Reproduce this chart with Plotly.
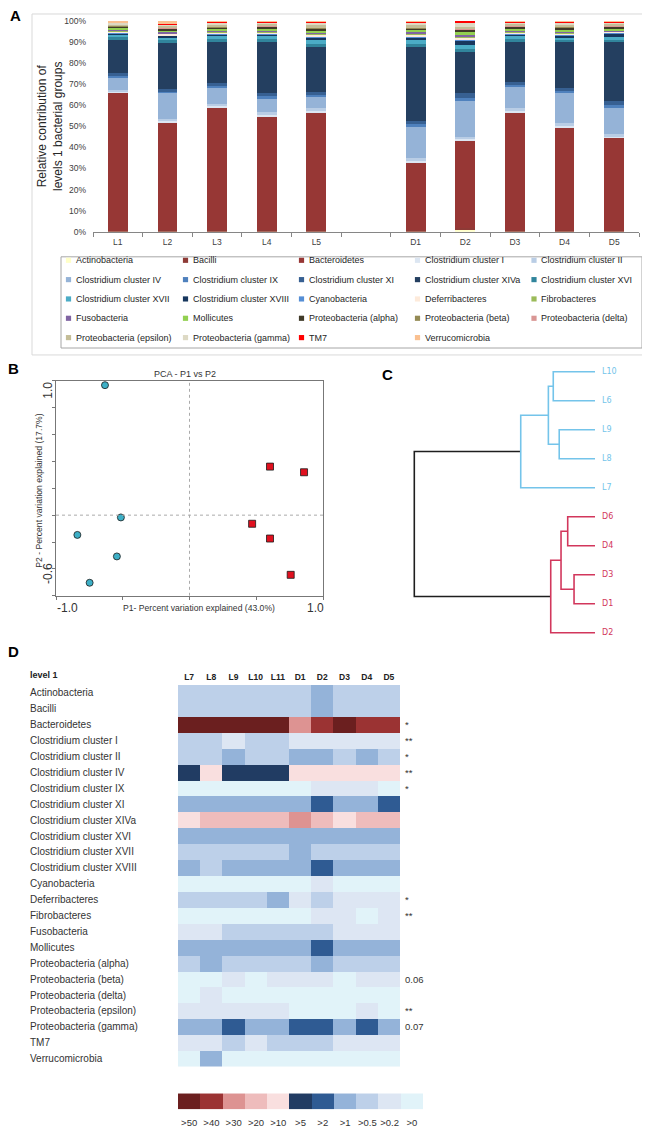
import plotly.graph_objects as go

# The page body keeps the browser's default 8 px margin, so the figure is drawn
# 8 px in from the window's top-left corner; positions below are window pixels.
PAGE_MARGIN = 8
WIN_W, WIN_H = 650, 1140
W, H = WIN_W - PAGE_MARGIN, WIN_H - PAGE_MARGIN


def px_x(p):
    return (p - PAGE_MARGIN) / W


def px_y(p):
    return 1 - (p - PAGE_MARGIN) / H


FONT = "Liberation Sans, Arial, sans-serif"

# ---------------- Panel A data ----------------
samples = ["L1", "L2", "L3", "L4", "L5", "D1", "D2", "D3", "D4", "D5"]
blank_slot = " "
x_order = samples[:5] + [blank_slot] + samples[5:]

group_names = [
    "Actinobacteria", "Bacilli", "Bacteroidetes", "Clostridium cluster I",
    "Clostridium cluster II", "Clostridium cluster IV", "Clostridium cluster IX",
    "Clostridium cluster XI", "Clostridium cluster XIVa", "Clostridium cluster XVI",
    "Clostridium cluster XVII", "Clostridium cluster XVIII", "Cyanobacteria",
    "Deferribacteres", "Fibrobacteres", "Fusobacteria", "Mollicutes",
    "Proteobacteria (alpha)", "Proteobacteria (beta)", "Proteobacteria (delta)",
    "Proteobacteria (epsilon)", "Proteobacteria (gamma)", "TM7", "Verrucomicrobia",
]
group_colors = [
    "#FFFFC8", "#8E3A36", "#973735", "#DCE6F2", "#B9CDE5", "#95B3D7", "#4F81BD",
    "#376092", "#243F60", "#31859C", "#4BACC6", "#17375E", "#558ED5", "#FDEADA",
    "#9BBB59", "#8064A2", "#92D050", "#403A28", "#948A54", "#D99694", "#C4BD97",
    "#DDD9C4", "#FF0000", "#FAC090",
]

actinobacteria = [0.1, 0.2, 0.2, 0.2, 0.2, 0.2, 0.6, 0.2, 0.2, 0.2]
bacilli = [0.4, 0.5, 0.5, 0.5, 0.5, 0.5, 1.0, 0.5, 0.5, 0.5]
bacteroidetes = [65.4, 51.1, 58.1, 54.2, 56.1, 31.9, 41.6, 56.1, 48.8, 44.1]
clostridium_I = [0.5, 0.6, 0.6, 0.6, 0.6, 1.0, 0.8, 0.6, 0.7, 0.6]
clostridium_II = [0.6, 1.0, 1.0, 1.0, 1.0, 1.5, 1.1, 1.0, 1.1, 0.9]
clostridium_IV = [6.2, 12.5, 8.1, 7.0, 5.6, 15.1, 16.9, 10.6, 14.9, 12.9]
clostridium_IX = [0.6, 0.5, 0.6, 0.8, 0.8, 0.8, 1.2, 0.6, 0.6, 0.9]
clostridium_XI = [1.3, 1.0, 1.2, 1.4, 1.4, 1.6, 2.4, 1.3, 1.1, 1.9]
clostridium_XIVa = [15.8, 22.0, 19.5, 24.4, 21.1, 34.7, 19.4, 19.2, 21.9, 27.8]
clostridium_XVI = [1.2, 1.3, 1.3, 1.2, 1.6, 1.6, 1.5, 1.2, 1.1, 1.2]
clostridium_XVII = [1.3, 1.3, 1.4, 1.2, 1.7, 1.7, 1.8, 1.2, 1.1, 1.2]
clostridium_XVIII = [0.8, 1.0, 1.1, 1.2, 1.7, 1.7, 2.3, 1.2, 1.3, 1.9]
cyanobacteria = [0.2, 0.3, 0.3, 0.3, 0.4, 0.4, 0.6, 0.3, 0.3, 0.3]
deferribacteres = [0.6, 0.6, 0.7, 0.7, 0.8, 0.8, 0.8, 0.7, 0.7, 0.5]
fibrobacteres = [0.3, 0.4, 0.4, 0.4, 0.5, 0.4, 0.6, 0.4, 0.4, 0.3]
fusobacteria = [0.1, 0.1, 0.1, 0.1, 0.2, 0.5, 0.6, 0.1, 0.1, 0.1]
mollicutes = [1.3, 1.3, 1.3, 1.3, 1.5, 1.4, 1.8, 1.3, 1.4, 1.2]
proteo_alpha = [0.7, 0.6, 0.6, 0.7, 0.8, 0.7, 0.8, 0.7, 0.7, 0.7]
proteo_beta = [0.3, 0.3, 0.3, 0.3, 0.3, 0.3, 0.3, 0.3, 0.3, 0.3]
proteo_delta = [0.2, 0.2, 0.2, 0.2, 0.3, 0.3, 0.3, 0.2, 0.2, 0.2]
proteo_epsilon = [0.4, 0.5, 0.5, 0.5, 0.6, 0.6, 0.7, 0.5, 0.5, 0.5]
proteo_gamma = [0.9, 1.2, 1.4, 1.2, 1.6, 1.6, 2.2, 1.3, 1.5, 1.3]
tm7 = [0.1, 0.1, 0.5, 0.2, 0.6, 0.6, 0.7, 0.3, 0.5, 0.4]
verrucomicrobia = [0.7, 1.4, 0.1, 0.4, 0.1, 0.1, 0.0, 0.2, 0.1, 0.1]

group_values = [
    actinobacteria, bacilli, bacteroidetes, clostridium_I, clostridium_II,
    clostridium_IV, clostridium_IX, clostridium_XI, clostridium_XIVa,
    clostridium_XVI, clostridium_XVII, clostridium_XVIII, cyanobacteria,
    deferribacteres, fibrobacteres, fusobacteria, mollicutes, proteo_alpha,
    proteo_beta, proteo_delta, proteo_epsilon, proteo_gamma, tm7, verrucomicrobia,
]
pct_ticks = list(range(0, 101, 10))
pct_tick_labels = ["%d%%" % v for v in pct_ticks]

# ---------------- Panel B data ----------------
pca_L_x = [-0.633, -0.514, -0.840, -0.544, -0.748]
pca_L_y = [0.967, -0.017, -0.147, -0.307, -0.503]
pca_D_x = [0.603, 0.858, 0.469, 0.603, 0.758]
pca_D_y = [0.361, 0.319, -0.064, -0.174, -0.444]
pca_x_ticks = [-1.0, -0.5, 0.0, 0.5, 1.0]
pca_y_ticks = [-0.6, -0.4, -0.2, 0.0, 0.2, 0.4, 0.6, 0.8, 1.0]

# ---------------- Panel C data ----------------
dendro_leaves = ["L10", "L6", "L9", "L8", "L7", "D6", "D4", "D3", "D1", "D2"]
merge_left = [0, 2, 10, 12, 5, 7, 14, 16, 13]
merge_right = [1, 3, 11, 4, 6, 8, 15, 9, 17]
merge_height = [0.231, 0.198, 0.258, 0.411, 0.151, 0.116, 0.188, 0.245, 1.0]
merge_group = ["L", "L", "L", "L", "D", "D", "D", "D", "root"]

# ---------------- Panel D data ----------------
hm_cols = ["L7", "L8", "L9", "L10", "L11", "D1", "D2", "D3", "D4", "D5"]
hm_rows = [
    "Actinobacteria", "Bacilli", "Bacteroidetes", "Clostridium cluster I",
    "Clostridium cluster II", "Clostridium cluster IV", "Clostridium cluster IX",
    "Clostridium cluster XI", "Clostridium cluster XIVa", "Clostridium cluster XVI",
    "Clostridium cluster XVII", "Clostridium cluster XVIII", "Cyanobacteria",
    "Deferribacteres", "Fibrobacteres", "Fusobacteria", "Mollicutes",
    "Proteobacteria (alpha)", "Proteobacteria (beta)", "Proteobacteria (delta)",
    "Proteobacteria (epsilon)", "Proteobacteria (gamma)", "TM7", "Verrucomicrobia",
]
# level index: 0 '>50', 1 '>40', 2 '>30', 3 '>20', 4 '>10', 5 '>5', 6 '>2', 7 '>1', 8 '>0.5', 9 '>0.2', 10 '>0'
hm_levels = [
    [8, 8, 8, 8, 8, 8, 7, 8, 8, 8],
    [8, 8, 8, 8, 8, 8, 7, 8, 8, 8],
    [0, 0, 0, 0, 0, 2, 1, 0, 1, 1],
    [8, 8, 9, 8, 8, 9, 9, 9, 9, 9],
    [8, 8, 7, 8, 8, 7, 7, 8, 7, 8],
    [5, 4, 5, 5, 5, 4, 4, 4, 4, 4],
    [10, 10, 10, 10, 10, 10, 9, 9, 9, 10],
    [7, 7, 7, 7, 7, 7, 6, 7, 7, 6],
    [4, 3, 3, 3, 3, 2, 3, 4, 3, 3],
    [7, 7, 7, 7, 7, 7, 7, 7, 7, 7],
    [8, 8, 8, 8, 8, 7, 8, 8, 8, 8],
    [7, 8, 7, 7, 7, 7, 6, 7, 7, 7],
    [10, 10, 10, 10, 10, 10, 9, 10, 10, 10],
    [8, 8, 8, 8, 7, 9, 8, 9, 9, 9],
    [10, 10, 10, 10, 10, 10, 9, 9, 10, 9],
    [9, 9, 8, 8, 8, 8, 8, 9, 9, 9],
    [7, 7, 7, 7, 7, 7, 6, 7, 7, 7],
    [8, 7, 8, 8, 8, 8, 7, 8, 8, 8],
    [10, 10, 9, 10, 9, 9, 9, 10, 9, 9],
    [10, 9, 10, 10, 10, 10, 10, 10, 10, 10],
    [9, 9, 9, 9, 9, 10, 10, 10, 9, 10],
    [7, 7, 6, 7, 7, 6, 6, 7, 6, 7],
    [9, 9, 8, 9, 8, 8, 8, 9, 9, 9],
    [10, 7, 10, 10, 10, 10, 10, 10, 10, 10],
]
hm_marks = ["", "", "*", "**", "*", "**", "*", "", "", "", "", "", "",
            "*", "**", "", "", "", "0.06", "", "**", "0.07", "", ""]
level_labels = [">50", ">40", ">30", ">20", ">10", ">5", ">2", ">1", ">0.5", ">0.2", ">0"]
level_colors = ["#6B1F1F", "#9B3333", "#DD9392", "#EEBCBC", "#F9DFDF", "#213C63",
                "#2F5B93", "#94B3D9", "#BDD0E9", "#DDE6F3", "#E1F3F9"]

# =====================================================================
fig = go.Figure()

# ---- Panel A: stacked bars ----
for name, color, vals in zip(group_names, group_colors, group_values):
    fig.add_trace(go.Bar(x=samples, y=vals, name=name, showlegend=False,
                         marker=dict(color=color, line=dict(width=0)),
                         xaxis="x", yaxis="y"))

# ---- Panel B: PCA ----
fig.add_trace(go.Scatter(x=pca_L_x, y=pca_L_y, mode="markers", showlegend=False,
                         marker=dict(symbol="circle", size=7, color="#3DAFC6",
                                     line=dict(color="#1a1a1a", width=0.8)),
                         xaxis="x2", yaxis="y2"))
fig.add_trace(go.Scatter(x=pca_D_x, y=pca_D_y, mode="markers", showlegend=False,
                         marker=dict(symbol="square", size=7, color="#E0101F",
                                     line=dict(color="#1a1a1a", width=0.8)),
                         xaxis="x2", yaxis="y2"))

# ---- Panel C: dendrogram ----
node_h = [0.0] * len(dendro_leaves)
node_y = list(range(len(dendro_leaves)))
paths = {"L": ([], []), "D": ([], []), "root": ([], [])}
for l, r, h, g in zip(merge_left, merge_right, merge_height, merge_group):
    xs, ys = paths[g]
    xs += [node_h[l], h, h, node_h[r], None]
    ys += [node_y[l], node_y[l], node_y[r], node_y[r], None]
    node_h.append(h)
    node_y.append((node_y[l] + node_y[r]) / 2)
dendro_colors = {"L": "#74C4EA", "D": "#D2375C", "root": "#1e1e1e"}
for g in ["root", "L", "D"]:
    xs, ys = paths[g]
    fig.add_trace(go.Scatter(x=xs, y=ys, mode="lines", showlegend=False,
                             line=dict(color=dendro_colors[g], width=1.6),
                             xaxis="x3", yaxis="y3", cliponaxis=False))

# ---- Panel D: heatmap ----
n_lv = len(level_colors)
scale = []
for i, c in enumerate(level_colors):
    scale.append([i / n_lv, c])
    scale.append([(i + 1) / n_lv, c])
fig.add_trace(go.Heatmap(z=hm_levels, x=hm_cols, y=hm_rows, colorscale=scale,
                         zmin=-0.5, zmax=n_lv - 0.5, showscale=False,
                         xaxis="x4", yaxis="y4", hoverinfo="skip"))
fig.add_trace(go.Heatmap(z=[list(range(n_lv))], x=level_labels, y=["key"],
                         colorscale=scale, zmin=-0.5, zmax=n_lv - 0.5,
                         showscale=False, xaxis="x5", yaxis="y5", hoverinfo="skip"))

# ---- axes ----
dx_leaf, dx_root = 595.0, 414.3
dx_l, dx_r = 405.0, 603.0
h_per_px = 1.0 / (dx_leaf - dx_root)
dy_top, dy_step = 370.0, 29.26
dy_t, dy_b = 358.0, 645.0

axis_off = dict(showgrid=False, zeroline=False, showline=False, ticks="",
                showticklabels=False)

fig.update_layout(
    width=W, height=H, margin=dict(l=0, r=0, t=0, b=0),
    paper_bgcolor="white", plot_bgcolor="rgba(0,0,0,0)",
    font=dict(family=FONT, color="#333333"),
    barmode="stack", bargap=0.6,
    xaxis=dict(domain=[px_x(93), px_x(639)], anchor="y", type="category",
               categoryorder="array", categoryarray=x_order, range=[-0.5, 10.5],
               showline=True, linecolor="#868686", linewidth=1, ticks="outside",
               tickson="boundaries", ticklen=4, tickcolor="#868686",
               tickfont=dict(size=8.5, color="#404040"), showgrid=False,
               ticklabelstandoff=2),
    yaxis=dict(domain=[px_y(228.7), px_y(15.7)], anchor="x", range=[0, 100],
               tickvals=pct_ticks, ticktext=pct_tick_labels, showgrid=False,
               showline=False, zeroline=False, ticks="",
               tickfont=dict(size=8.5, color="#404040"), ticklabelstandoff=6),
    xaxis2=dict(domain=[px_x(56), px_x(323)], anchor="y2", range=[-1, 1],
                tickvals=pca_x_ticks, showticklabels=False, ticks="outside",
                ticklen=3, tickcolor="#777777", showline=True, mirror=True,
                linecolor="#777777", linewidth=1, showgrid=False, zeroline=False),
    yaxis2=dict(domain=[px_y(596), px_y(379)], anchor="x2", range=[-0.6, 1.0],
                tickvals=pca_y_ticks, showticklabels=False, ticks="outside",
                ticklen=3, tickcolor="#777777", showline=True, mirror=True,
                linecolor="#777777", linewidth=1, showgrid=False, zeroline=False),
    xaxis3=dict(domain=[px_x(dx_l), px_x(dx_r)], anchor="y3",
                range=[(dx_leaf - dx_l) * h_per_px, (dx_leaf - dx_r) * h_per_px],
                **axis_off),
    yaxis3=dict(domain=[px_y(dy_b), px_y(dy_t)], anchor="x3",
                range=[(dy_b - dy_top) / dy_step, (dy_t - dy_top) / dy_step],
                **axis_off),
    xaxis4=dict(domain=[px_x(178), px_x(400)], anchor="y4", side="top",
                tickvals=hm_cols, ticktext=["<b>%s</b>" % c for c in hm_cols],
                ticks="", showgrid=False, zeroline=False, showline=False,
                tickfont=dict(size=8.5, color="#222222"), ticklabelstandoff=2),
    yaxis4=dict(domain=[px_y(1071), px_y(686)], anchor="x4", autorange="reversed",
                **axis_off),
    xaxis5=dict(domain=[px_x(178), px_x(423)], anchor="y5", ticks="",
                showgrid=False, zeroline=False, showline=False,
                tickfont=dict(size=9.5, color="#333333"), ticklabelstandoff=6),
    yaxis5=dict(domain=[px_y(1114), px_y(1098)], anchor="x5", **axis_off),
)

shapes = []
annotations = []


def note(x, y, text, size, color="#333333", xanchor="center", angle=0,
         family=None, xref="paper", yref="paper", **kw):
    f = dict(size=size, color=color)
    if family:
        f["family"] = family
    d = dict(xref=xref, yref=yref, x=x, y=y, text=text, showarrow=False,
             xanchor=xanchor, yanchor="middle", textangle=angle, font=f)
    d.update(kw)
    annotations.append(d)


# panel A frame and legend
shapes.append(dict(type="rect", xref="paper", yref="paper",
                   x0=px_x(32), x1=px_x(648), y0=px_y(353), y1=px_y(9),
                   line=dict(color="#D9D9D9", width=1)))
shapes.append(dict(type="rect", xref="paper", yref="paper",
                   x0=px_x(61), x1=px_x(642), y0=px_y(346), y1=px_y(254),
                   line=dict(color="#A6A6A6", width=1)))
leg_cols = [68.5, 185.5, 301.5, 417.5, 534.0]
leg_rows = [257.5, 277.0, 296.5, 316.0, 335.5]
for k, (name, color) in enumerate(zip(group_names, group_colors)):
    cx = leg_cols[k % 5]
    cy = leg_rows[k // 5]
    shapes.append(dict(type="rect", xref="paper", yref="paper",
                       x0=px_x(cx - 2.6), x1=px_x(cx + 2.6),
                       y0=px_y(cy + 2.6), y1=px_y(cy - 2.6),
                       fillcolor=color, line=dict(width=0)))
    note(px_x(cx + 5), px_y(cy), name, 9, "#262626", xanchor="left")

note(px_x(50), px_y(122), "Relative contribution of<br>levels 1 bacterial groups",
     12, "#262626", angle=-90)

# panel B
shapes.append(dict(type="line", xref="x2", yref="y2", x0=0, x1=0, y0=-0.6, y1=1.0,
                   line=dict(color="#AAAAAA", width=1, dash="dot")))
shapes.append(dict(type="line", xref="x2", yref="y2", x0=-1, x1=1, y0=0, y1=0,
                   line=dict(color="#AAAAAA", width=1, dash="dot")))
note(px_x(185), px_y(372), "PCA - P1 vs P2", 9)
note(px_x(39), px_y(490), "P2 - Percent variation explained (17.7%)", 8.6, angle=-90)
note(px_x(199), px_y(608), "P1- Percent variation explained (43.0%)", 8.6)
note(px_x(48), px_y(389), "1.0", 12, angle=-90)
note(px_x(48), px_y(574), "-0.6", 12, angle=-90)
note(px_x(67), px_y(608), "-1.0", 12)
note(px_x(315), px_y(608), "1.0", 12)

# panel C leaf labels
for i, leaf in enumerate(dendro_leaves):
    col = dendro_colors["L"] if leaf.startswith("L") else dendro_colors["D"]
    note(0, i, leaf, 8, col, xanchor="left", family="DejaVu Sans, sans-serif",
         xref="x3", yref="y3", xshift=5)

# panel D labels
note(px_x(28), px_y(676), "<b>level 1</b>", 9, "#222222", xanchor="left")
for row, mark in zip(hm_rows, hm_marks):
    note(px_x(28), row, row, 10, "#333333", xanchor="left", yref="y4")
    if mark:
        note(px_x(403), row, mark, 9.5, "#333333", xanchor="left", yref="y4")

# panel letters
for letter, lx, ly in [("A", 15, 11), ("B", 13, 367), ("C", 387, 373), ("D", 14, 652)]:
    note(px_x(lx), px_y(ly), "<b>%s</b>" % letter, 15, "#000000")

fig.update_layout(shapes=shapes, annotations=annotations)
fig.write_html("out.html")
